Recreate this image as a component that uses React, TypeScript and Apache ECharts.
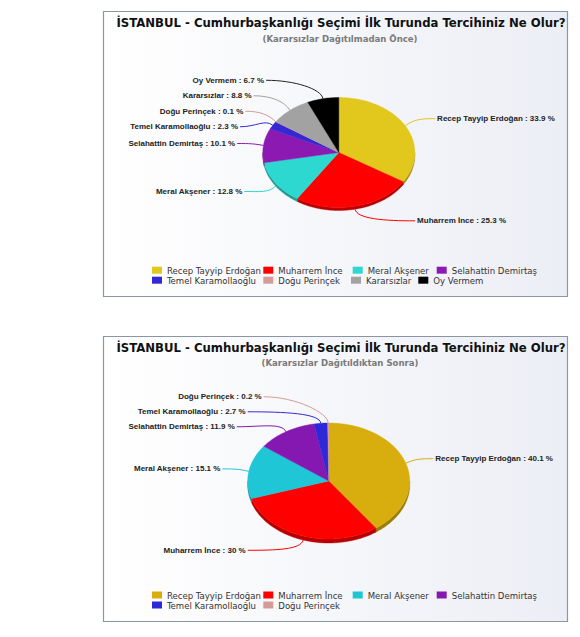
import React, { useEffect, useRef } from "react";
import * as echarts from "echarts";

const TITLE = "İSTANBUL - Cumhurbaşkanlığı Seçimi İlk Turunda Tercihiniz Ne Olur?";
const SUBTITLE_BEFORE = "(Kararsızlar Dağıtılmadan Önce)";
const SUBTITLE_AFTER = "(Kararsızlar Dağıtıldıktan Sonra)";

const beforeNames = [
  "Recep Tayyip Erdoğan",
  "Muharrem İnce",
  "Meral Akşener",
  "Selahattin Demirtaş",
  "Temel Karamollaoğlu",
  "Doğu Perinçek",
  "Kararsızlar",
  "Oy Vermem",
];
const beforeValues = [33.9, 25.3, 12.8, 10.1, 2.3, 0.1, 8.8, 6.7];
const beforeColors = ["#E2C71C", "#FF0000", "#2CD8D0", "#8C1AB2", "#3428D2", "#D79A9A", "#A2A2A2", "#000000"];

const afterNames = [
  "Recep Tayyip Erdoğan",
  "Muharrem İnce",
  "Meral Akşener",
  "Selahattin Demirtaş",
  "Temel Karamollaoğlu",
  "Doğu Perinçek",
];
const afterValues = [40.1, 30, 15.1, 11.9, 2.7, 0.2];
const afterColors = ["#D8AD0E", "#FF0000", "#1EC6D6", "#8418B0", "#2F28D6", "#D79A9A"];

const LABEL_FONT = 'bold 8px "Liberation Sans", Arial, sans-serif';
const COND = '"DejaVu Sans Condensed", "DejaVu Sans", sans-serif';

type Cfg = {
  top: number;
  height: number;
  boxTop: number;
  boxBottom: number;
  titleY: number;
  subY: number;
  subtitle: string;
  cx: number;
  cy: number;
  rx: number;
  ry: number;
  depth: number;
  labelOff: number;
  gap: number;
  lrx: number;
  lry: number;
  legendRows: number[];
  legendCols: number[][];
  perRow: number;
};

const cfgBefore: Cfg = {
  top: 0,
  height: 318,
  boxTop: 11.5,
  boxBottom: 296.5,
  titleY: 22.7,
  subY: 38.3,
  subtitle: SUBTITLE_BEFORE,
  cx: 338.8,
  cy: 152.5,
  rx: 76,
  ry: 55,
  depth: 3,
  labelOff: 15,
  gap: 15.5,
  lrx: 102,
  lry: 103,
  legendRows: [270.2, 280.2],
  legendCols: [
    [152, 263.3, 352.7, 436.7],
    [152, 263.3, 351, 418.3],
  ],
  perRow: 4,
};

const cfgAfter: Cfg = {
  top: 318,
  height: 319,
  boxTop: 18.5,
  boxBottom: 303.5,
  titleY: 29.7,
  subY: 44.7,
  subtitle: SUBTITLE_AFTER,
  cx: 328.7,
  cy: 163,
  rx: 81,
  ry: 58,
  depth: 4,
  labelOff: 15,
  gap: 15,
  lrx: 107,
  lry: 106,
  legendRows: [277, 287],
  legendCols: [
    [152, 263.3, 352.7, 436.7],
    [152, 263.3],
  ],
  perRow: 4,
};

function shade(hex: string, f: number) {
  const n = parseInt(hex.slice(1), 16);
  const r = Math.round(((n >> 16) & 255) * f);
  const g = Math.round(((n >> 8) & 255) * f);
  const b = Math.round((n & 255) * f);
  return `rgb(${r},${g},${b})`;
}

function buildLayout(values: number[], cfg: Cfg) {
  const total = values.reduce((a, b) => a + b, 0);
  let acc = 0;
  const items = values.map((v, i) => {
    const a = (acc / total) * Math.PI * 2;
    acc += v;
    const b = (acc / total) * Math.PI * 2;
    const m = (a + b) / 2;
    return {
      i,
      a,
      b,
      m,
      side: Math.sin(m) >= 0 ? 1 : -1,
      ny: cfg.cy - (cfg.ry + cfg.labelOff) * Math.cos(m),
      y: 0,
    };
  });
  const gap = cfg.gap;
  [1, -1].forEach((side) => {
    const list = items.filter((it) => it.side === side).sort((p, q) => p.ny - q.ny);
    const clusters: { members: typeof items; top: number }[] = [];
    list.forEach((it) => {
      clusters.push({ members: [it], top: it.ny });
      while (clusters.length > 1) {
        const c = clusters[clusters.length - 1];
        const p = clusters[clusters.length - 2];
        const pBottom = p.top + (p.members.length - 1) * gap;
        if (pBottom + gap > c.top) {
          const members = p.members.concat(c.members);
          const mean = members.reduce((s, mm) => s + mm.ny, 0) / members.length;
          clusters.splice(clusters.length - 2, 2, { members, top: mean - ((members.length - 1) * gap) / 2 });
        } else break;
      }
    });
    clusters.forEach((c) => c.members.forEach((mm, k) => (mm.y = c.top + k * gap)));
  });
  const pt = (t: number, dy = 0) => [cfg.cx + cfg.rx * Math.sin(t), cfg.cy - cfg.ry * Math.cos(t) + dy];
  const step = Math.PI / 120;
  return items.map((it) => {
    const n = Math.max(1, Math.ceil((it.b - it.a) / step));
    const topPts: number[][] = [[cfg.cx, cfg.cy]];
    for (let k = 0; k <= n; k++) topPts.push(pt(it.a + ((it.b - it.a) * k) / n));
    let sidePts: number[][] | null = null;
    const s = Math.max(it.a, Math.PI / 2);
    const e = Math.min(it.b, (3 * Math.PI) / 2);
    if (e > s) {
      const ns = Math.max(1, Math.ceil((e - s) / step));
      const front: number[][] = [];
      const back: number[][] = [];
      for (let k = 0; k <= ns; k++) {
        const t = s + ((e - s) * k) / ns;
        front.push(pt(t));
        back.push(pt(t, cfg.depth));
      }
      sidePts = front.concat(back.reverse());
    }
    const dy = it.y - cfg.cy;
    const q = Math.max(0, 1 - (dy / cfg.lry) ** 2);
    const lx = cfg.cx + it.side * cfg.lrx * Math.sqrt(q);
    const anchor = pt(it.m, Math.cos(it.m) < 0 ? cfg.depth : 0);
    let nx = Math.sin(it.m) / cfg.rx;
    let nyv = -Math.cos(it.m) / cfg.ry;
    const len = Math.hypot(nx, nyv);
    nx /= len;
    nyv /= len;
    const cp2 = [anchor[0] + nx * 10, anchor[1] + nyv * 10];
    const cp1 = [lx + (anchor[0] - lx) * 0.5, it.y];
    return { ...it, topPts, sidePts, lx, anchor, cp1, cp2 };
  });
}

function buildOption(names: string[], values: number[], colors: string[], cfg: Cfg) {
  const layout = buildLayout(values, cfg);
  const series = names.map((name, j) => ({
    type: "custom",
    name,
    coordinateSystem: "none",
    silent: true,
    data: [[values[j]]],
    itemStyle: { color: colors[j] },
    renderItem: () => {
      const L = layout[j];
      const color = colors[j];
      const children: any[] = [];
      if (L.sidePts) {
        children.push({
          type: "polygon",
          shape: { points: L.sidePts },
          style: { fill: shade(color, 0.72), stroke: shade(color, 0.72), lineWidth: 0.4 },
        });
      }
      children.push({
        type: "polygon",
        shape: { points: L.topPts },
        style: { fill: color, stroke: color, lineWidth: 0.4 },
      });
      const x0 = L.lx;
      children.push({
        type: "bezierCurve",
        shape: {
          x1: x0,
          y1: L.y,
          cpx1: L.cp1[0],
          cpy1: L.cp1[1],
          cpx2: L.cp2[0],
          cpy2: L.cp2[1],
          x2: L.anchor[0],
          y2: L.anchor[1],
        },
        style: { stroke: color === "#000000" ? "#222222" : color, lineWidth: 1, fill: null },
      });
      children.push({
        type: "text",
        style: {
          text: `${name} : ${values[j]} %`,
          x: x0 + L.side * 2,
          y: L.y,
          align: L.side > 0 ? "left" : "right",
          verticalAlign: "middle",
          font: LABEL_FONT,
          fill: "#222222",
        },
      });
      return { type: "group", children };
    },
  }));

  const legends: any[] = [];
  names.forEach((name, j) => {
    const row = Math.floor(j / cfg.perRow);
    const col = j % cfg.perRow;
    legends.push({
      data: [{ name, itemStyle: { color: colors[j] } }],
      left: cfg.legendCols[row][col],
      top: cfg.legendRows[row] - 5,
      padding: 0,
      icon: "rect",
      itemWidth: 10,
      itemHeight: 7,
      selectedMode: false,
      textStyle: { fontFamily: COND, fontSize: 9.5, color: "#333333", lineHeight: 10 },
    });
  });

  return {
    animation: false,
    backgroundColor: "#ffffff",
    legend: legends,
    graphic: [
      {
        type: "rect",
        shape: { x: 103.5, y: cfg.boxTop, width: 464, height: cfg.boxBottom - cfg.boxTop },
        style: {
          fill: {
            type: "linear",
            x: 0,
            y: 0,
            x2: 1,
            y2: 0,
            colorStops: [
              { offset: 0, color: "#ffffff" },
              { offset: 1, color: "#ECEEF5" },
            ],
          },
          stroke: "#8A95A6",
          lineWidth: 1.2,
        },
        z: -10,
      },
      {
        type: "text",
        x: 341,
        y: cfg.titleY,
        style: {
          text: TITLE,
          align: "center",
          verticalAlign: "middle",
          font: `bold 13px ${COND}`,
          fill: "#111111",
        },
      },
      {
        type: "text",
        x: 340,
        y: cfg.subY,
        style: {
          text: cfg.subtitle,
          align: "center",
          verticalAlign: "middle",
          font: `bold 9.5px ${COND}`,
          fill: "#7a7a7a",
        },
      },
    ],
    series,
  };
}

function PieBox(props: { names: string[]; values: number[]; colors: string[]; cfg: Cfg }) {
  const ref = useRef<HTMLDivElement>(null);
  useEffect(() => {
    if (!ref.current) return;
    const chart = echarts.init(ref.current, undefined, { renderer: "svg" });
    chart.setOption(buildOption(props.names, props.values, props.colors, props.cfg) as any);
    return () => chart.dispose();
  }, []);
  return (
    <div
      ref={ref}
      style={{ position: "fixed", left: 0, top: props.cfg.top, width: 580, height: props.cfg.height }}
    />
  );
}

export default function App() {
  return (
    <>
      <PieBox names={beforeNames} values={beforeValues} colors={beforeColors} cfg={cfgBefore} />
      <PieBox names={afterNames} values={afterValues} colors={afterColors} cfg={cfgAfter} />
    </>
  );
}
